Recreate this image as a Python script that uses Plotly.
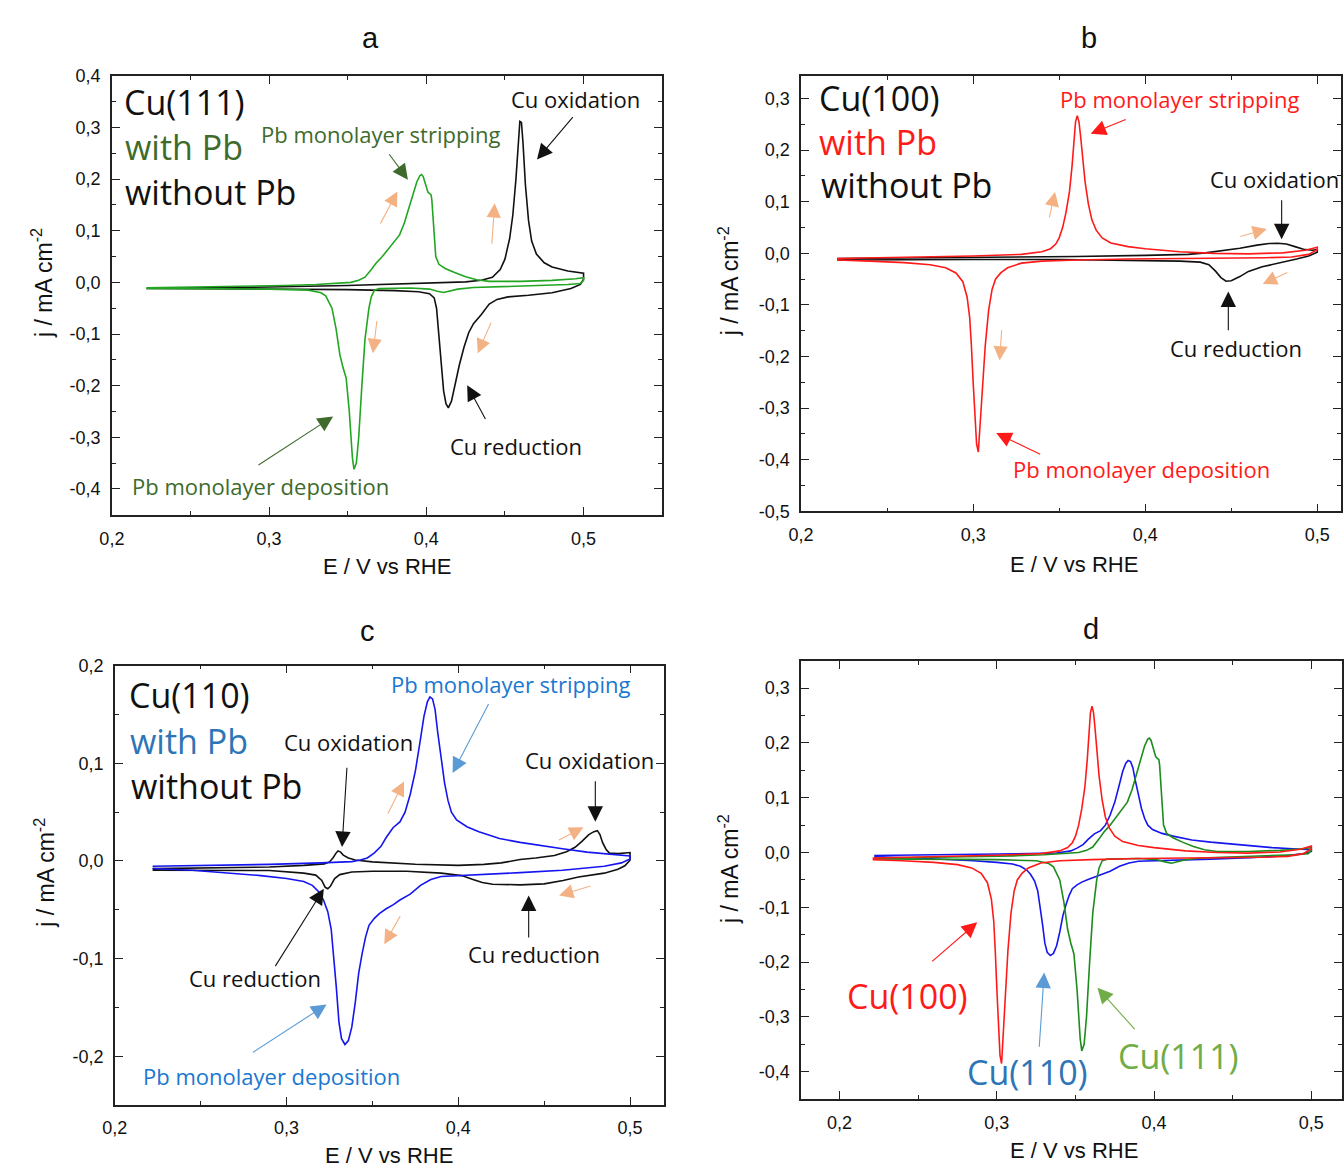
import plotly.graph_objects as go

# ------------------------------------------------------------------ data
# Cu(111) with Pb  (anodic sweep then cathodic sweep)
cu111_pb_E = [0.222, 0.25, 0.28, 0.31, 0.33, 0.345, 0.352, 0.357, 0.361, 0.365, 0.368, 0.372, 0.376,
              0.380, 0.383, 0.386, 0.389, 0.392, 0.394, 0.396, 0.397, 0.398, 0.400, 0.401, 0.402, 0.403,
              0.4035, 0.405, 0.406, 0.408, 0.412, 0.418, 0.425, 0.432, 0.44, 0.46, 0.48, 0.495, 0.5,
              0.5, 0.498, 0.49, 0.47, 0.45, 0.43, 0.42, 0.415, 0.411, 0.407, 0.402, 0.39, 0.375, 0.370,
              0.367, 0.365, 0.3635, 0.361, 0.359, 0.357, 0.3555, 0.354, 0.353, 0.351, 0.349, 0.347,
              0.345, 0.3426, 0.340, 0.336, 0.333, 0.325, 0.30, 0.26, 0.222]
cu111_pb_j = [-0.0105, -0.0095, -0.008, -0.006, -0.004, -0.002, 0.0, 0.004, 0.010, 0.025, 0.037, 0.050, 0.065,
              0.080, 0.092, 0.115, 0.145, 0.175, 0.195, 0.207, 0.209, 0.205, 0.185, 0.175, 0.172, 0.170,
              0.160, 0.080, 0.050, 0.035, 0.027, 0.019, 0.011, 0.005, 0.002, 0.002, 0.004, 0.007, 0.009,
              0.004, -0.002, -0.004, -0.006, -0.008, -0.010, -0.013, -0.017, -0.0195, -0.017, -0.013, -0.011, -0.011, -0.012,
              -0.015, -0.028, -0.05, -0.11, -0.20, -0.30, -0.35, -0.362, -0.34, -0.25, -0.185, -0.165,
              -0.14, -0.09, -0.05, -0.026, -0.020, -0.015, -0.013, -0.012, -0.0115]

# Cu(111) without Pb
cu111_E = [0.222, 0.26, 0.30, 0.35, 0.40, 0.425, 0.435, 0.442, 0.447, 0.450, 0.453, 0.455, 0.457, 0.4585,
           0.4595, 0.4605, 0.4615, 0.463, 0.465, 0.467, 0.470, 0.475, 0.48, 0.49, 0.498, 0.5,
           0.5, 0.498, 0.492, 0.48, 0.465, 0.452, 0.445, 0.44, 0.435, 0.43, 0.427, 0.424, 0.421, 0.418,
           0.416, 0.414, 0.4125, 0.411, 0.4095, 0.408, 0.4065, 0.405, 0.402, 0.395, 0.38, 0.35, 0.30,
           0.26, 0.222]
cu111_j = [-0.012, -0.011, -0.009, -0.006, -0.002, 0.001, 0.004, 0.010, 0.025, 0.045, 0.085, 0.13, 0.20, 0.27,
           0.312, 0.31, 0.27, 0.19, 0.12, 0.080, 0.055, 0.038, 0.030, 0.022, 0.019, 0.018,
           0.006, -0.004, -0.012, -0.020, -0.025, -0.028, -0.033, -0.042, -0.062, -0.080, -0.097, -0.125, -0.16, -0.20,
           -0.23, -0.243, -0.235, -0.21, -0.16, -0.10, -0.05, -0.03, -0.022, -0.018, -0.016, -0.014, -0.013,
           -0.012, -0.0115]

# Cu(100) with Pb
cu100_pb_E = [0.221, 0.26, 0.30, 0.328, 0.34, 0.345, 0.348, 0.350, 0.352, 0.354, 0.356, 0.3575, 0.3585,
              0.3595, 0.3605, 0.3615, 0.3625, 0.3635, 0.365, 0.367, 0.369, 0.3715, 0.375, 0.38, 0.39, 0.40,
              0.42, 0.44, 0.46, 0.48, 0.493, 0.5,
              0.5, 0.495, 0.485, 0.47, 0.43, 0.39, 0.36, 0.34, 0.328, 0.320, 0.316, 0.313, 0.311, 0.309,
              0.307, 0.3055, 0.304, 0.303, 0.302, 0.301, 0.300, 0.299, 0.298, 0.2965, 0.294, 0.290,
              0.284, 0.275, 0.26, 0.24, 0.221]
cu100_pb_j = [-0.010, -0.008, -0.005, -0.002, 0.003, 0.009, 0.018, 0.030, 0.050, 0.080, 0.120, 0.170, 0.215,
              0.255, 0.267, 0.255, 0.225, 0.185, 0.140, 0.095, 0.065, 0.045, 0.030, 0.020, 0.013, 0.009,
              0.003, 0.000, -0.001, 0.001, 0.006, 0.012,
              0.007, -0.002, -0.007, -0.0085, -0.0095, -0.011, -0.013, -0.015, -0.019, -0.028, -0.038, -0.050, -0.07, -0.11,
              -0.18, -0.26, -0.34, -0.385, -0.37, -0.32, -0.25, -0.18, -0.125, -0.085, -0.055, -0.038,
              -0.028, -0.022, -0.018, -0.015, -0.013]

# Cu(100) without Pb
cu100_E = [0.221, 0.30, 0.36, 0.40, 0.425, 0.435, 0.445, 0.455, 0.465, 0.472, 0.477, 0.482, 0.487, 0.492,
           0.497, 0.5,
           0.5, 0.495, 0.488, 0.478, 0.468, 0.46, 0.455, 0.45, 0.447, 0.444, 0.441, 0.437, 0.432, 0.42,
           0.40, 0.35, 0.30, 0.221]
cu100_j = [-0.010, -0.008, -0.006, -0.004, -0.002, 0.001, 0.005, 0.010, 0.016, 0.019, 0.0195, 0.018, 0.013, 0.008,
           0.006, 0.007,
           0.002, -0.005, -0.011, -0.018, -0.026, -0.035, -0.045, -0.053, -0.054, -0.047, -0.035, -0.022, -0.017, -0.015,
           -0.014, -0.012, -0.012, -0.013]

# Cu(110) with Pb
cu110_pb_E = [0.222, 0.26, 0.29, 0.32, 0.338, 0.343, 0.347, 0.351, 0.355, 0.358, 0.362, 0.366, 0.369, 0.372,
              0.375, 0.378, 0.380, 0.382, 0.3835, 0.385, 0.3865, 0.388, 0.390, 0.392, 0.394, 0.396, 0.399,
              0.405, 0.412, 0.424, 0.436, 0.45, 0.4607, 0.475, 0.4852, 0.5,
              0.5, 0.495, 0.485, 0.4607, 0.436, 0.41, 0.399, 0.39, 0.384, 0.378, 0.372, 0.366, 0.362, 0.358,
              0.354, 0.351, 0.348, 0.346, 0.344, 0.342, 0.340, 0.338, 0.336, 0.334, 0.332, 0.3305, 0.329,
              0.3275, 0.326, 0.324, 0.3215, 0.319, 0.315, 0.31, 0.30, 0.285, 0.265, 0.245, 0.222]
cu110_pb_j = [-0.0055, -0.0045, -0.0035, -0.002, -0.0007, 0.001, 0.003, 0.008, 0.015, 0.024, 0.034, 0.040, 0.050, 0.068,
              0.092, 0.125, 0.148, 0.163, 0.168, 0.166, 0.155, 0.132, 0.105, 0.080, 0.062, 0.050, 0.042,
              0.035, 0.030, 0.023, 0.019, 0.015, 0.0125, 0.009, 0.0075, 0.005,
              0.002, -0.002, -0.0055, -0.0095, -0.012, -0.014, -0.0148, -0.016, -0.019, -0.025, -0.034, -0.040, -0.045, -0.049,
              -0.054, -0.059, -0.066, -0.078, -0.095, -0.115, -0.145, -0.170, -0.184, -0.188, -0.182, -0.165, -0.13,
              -0.095, -0.07, -0.052, -0.040, -0.032, -0.025, -0.021, -0.018, -0.015, -0.012, -0.0095, -0.0078]

# Cu(110) without Pb
cu110_E = [0.222, 0.26, 0.29, 0.31, 0.322, 0.325, 0.327, 0.329, 0.330, 0.3315, 0.333, 0.336, 0.34, 0.35,
           0.375, 0.40, 0.415, 0.425, 0.436, 0.445, 0.456, 0.463, 0.468, 0.472, 0.476, 0.479, 0.481,
           0.4825, 0.484, 0.486, 0.488, 0.493, 0.5,
           0.5, 0.497, 0.493, 0.485, 0.47, 0.461, 0.45, 0.436, 0.42, 0.414, 0.409, 0.402, 0.39, 0.37,
           0.35, 0.338, 0.331, 0.328, 0.3255, 0.324, 0.3225, 0.3205, 0.317, 0.31, 0.29, 0.222]
cu110_j = [-0.0079, -0.0072, -0.0062, -0.0045, -0.003, -0.001, 0.003, 0.0085, 0.0103, 0.009, 0.006, 0.003, 0.001, -0.001,
           -0.0034, -0.0045, -0.0035, -0.002, 0.0014, 0.003, 0.0055, 0.0095, 0.014, 0.020, 0.027, 0.030, 0.031,
           0.027, 0.019, 0.012, 0.008, 0.0075, 0.0086,
           0.0007, -0.005, -0.0085, -0.0125, -0.0165, -0.020, -0.0235, -0.0245, -0.0238, -0.022, -0.0192, -0.015, -0.0125, -0.0105,
           -0.0105, -0.0113, -0.014, -0.018, -0.026, -0.0285, -0.027, -0.020, -0.0145, -0.0125, -0.0098, -0.0096]

# tick labels
x_ticks = [0.2, 0.3, 0.4, 0.5]
x_ticklabels = ["0,2", "0,3", "0,4", "0,5"]
ya_ticks = [-0.4, -0.3, -0.2, -0.1, 0.0, 0.1, 0.2, 0.3, 0.4]
ya_ticklabels = ["-0,4", "-0,3", "-0,2", "-0,1", "0,0", "0,1", "0,2", "0,3", "0,4"]
yb_ticks = [-0.5, -0.4, -0.3, -0.2, -0.1, 0.0, 0.1, 0.2, 0.3]
yb_ticklabels = ["-0,5", "-0,4", "-0,3", "-0,2", "-0,1", "0,0", "0,1", "0,2", "0,3"]
yc_ticks = [-0.2, -0.1, 0.0, 0.1, 0.2]
yc_ticklabels = ["-0,2", "-0,1", "0,0", "0,1", "0,2"]
yd_ticks = [-0.4, -0.3, -0.2, -0.1, 0.0, 0.1, 0.2, 0.3]
yd_ticklabels = ["-0,4", "-0,3", "-0,2", "-0,1", "0,0", "0,1", "0,2", "0,3"]
x_minor = [0.15, 0.25, 0.35, 0.45, 0.55]
y_minor = [-0.45, -0.35, -0.25, -0.15, -0.05, 0.05, 0.15, 0.25, 0.35]

panel_letters = ["a", "b", "c", "d"]

# ------------------------------------------------------------------ styles
GREEN_A = "#22a622"
GREEN_D = "#1d8c1d"
RED = "#ff1a1a"
BLUE = "#1515f0"
BLACK = "#111111"
DKGREEN_TXT = "#3e6b2c"
BLUE_TXT = "#2e75b6"
BLUE_TXT2 = "#1a78d0"
LT_BLUE = "#5b9bd5"
LT_GREEN = "#70ad47"
PEACH = "#f4b183"
TXT_FONT = "Open Sans"
AX_FONT = "Liberation Sans, Arial"
BIG = 34

W, H = 1344, 1176

fig = go.Figure()


def add_curve(E, j, color, k):
    fig.add_trace(go.Scatter(x=E, y=j, mode="lines", line=dict(color=color, width=1.6),
                             xaxis="x" + ("" if k == 1 else str(k)),
                             yaxis="y" + ("" if k == 1 else str(k)),
                             showlegend=False, hoverinfo="skip"))


add_curve(cu111_E, cu111_j, BLACK, 1)
add_curve(cu111_pb_E, cu111_pb_j, GREEN_A, 1)
add_curve(cu100_E, cu100_j, BLACK, 2)
add_curve(cu100_pb_E, cu100_pb_j, RED, 2)
add_curve(cu110_E, cu110_j, BLACK, 3)
add_curve(cu110_pb_E, cu110_pb_j, BLUE, 3)
add_curve(cu110_pb_E, cu110_pb_j, BLUE, 4)
add_curve(cu111_pb_E, cu111_pb_j, GREEN_D, 4)
add_curve(cu100_pb_E, cu100_pb_j, RED, 4)

# panel pixel boxes: left, top, right, bottom
boxes = {1: (100, 67, 656, 514), 2: (797, 67, 1343, 510), 3: (103, 667, 658, 1114), 4: (797, 662, 1344, 1108)}
xranges = {1: [0.2, 0.5497], 2: [0.2, 0.5138], 3: [0.2, 0.5196], 4: [0.1755, 0.5195]}
yranges = {1: [-0.451, 0.4], 2: [-0.5, 0.344], 3: [-0.25, 0.2], 4: [-0.45, 0.35]}
yt = {1: (ya_ticks, ya_ticklabels), 2: (yb_ticks, yb_ticklabels), 3: (yc_ticks, yc_ticklabels),
      4: (yd_ticks, yd_ticklabels)}

common = dict(showline=True, linecolor="#222", linewidth=1.6, mirror="allticks", ticks="inside",
              ticklen=8, tickwidth=1.4, tickcolor="#222", showgrid=False, zeroline=False,
              tickfont=dict(family=AX_FONT, size=18, color="#111"), ticklabelstandoff=6,
              minor=dict(ticks="inside", ticklen=4, tickwidth=1.2, tickcolor="#222", showgrid=False))

layout = dict(width=W, height=H, margin=dict(l=0, r=0, t=0, b=0), paper_bgcolor="white",
              plot_bgcolor="white", showlegend=False)

for k in range(1, 5):
    l, t, r, b = boxes[k]
    xs = "xaxis" + ("" if k == 1 else str(k))
    ys = "yaxis" + ("" if k == 1 else str(k))
    xa = dict(common)
    xa.update(domain=[l / W, r / W], range=xranges[k], tickmode="array", tickvals=x_ticks,
              ticktext=x_ticklabels, anchor="y" + ("" if k == 1 else str(k)))
    xa["minor"] = dict(common["minor"], tickvals=x_minor)
    ya = dict(common)
    ya.update(domain=[1 - b / H, 1 - t / H], range=yranges[k], tickmode="array", tickvals=yt[k][0],
              ticktext=yt[k][1], anchor="x" + ("" if k == 1 else str(k)))
    ya["minor"] = dict(common["minor"], tickvals=y_minor)
    layout[xs] = xa
    layout[ys] = ya

fig.update_layout(**layout)

ann = []

# panel titles and axis titles (paper pixel positions)
title_pos = [(362, 28), (1088, 28), (358, 632), (1090, 630)]
for letter, (px, py) in zip(panel_letters, title_pos):
    ann.append(dict(text=letter, x=px / W, y=1 - py / H, xref="paper", yref="paper", showarrow=False,
                    font=dict(family=AX_FONT, size=29, color="#111"), xanchor="center", yanchor="middle"))
xtitle_pos = [(378, 566), (1073, 564), (380, 1165), (1073, 1160)]
ytitle_pos = [(30, 278), (724, 276), (32, 878), (724, 874)]
for (px, py) in xtitle_pos:
    ann.append(dict(text="E / V vs RHE", x=px / W, y=1 - py / H, xref="paper", yref="paper",
                    showarrow=False, font=dict(family=AX_FONT, size=22, color="#111"),
                    xanchor="center", yanchor="middle"))
for (px, py) in ytitle_pos:
    ann.append(dict(text="j / mA cm<sup>-2</sup>", x=px / W, y=1 - py / H, xref="paper", yref="paper",
                    showarrow=False, textangle=-90, font=dict(family=AX_FONT, size=23, color="#111"),
                    xanchor="center", yanchor="middle"))


def txt(k, s, x, y, color, size=22):
    sx = "" if k == 1 else str(k)
    ann.append(dict(text=s, x=x, y=y, xref="x" + sx, yref="y" + sx, showarrow=False,
                    xanchor="left", yanchor="middle", font=dict(family=TXT_FONT, size=size, color=color)))


def arr(k, x0, y0, x1, y1, color, width=1.1, size=2.8):
    sx = "" if k == 1 else str(k)
    ann.append(dict(text="", x=x1, y=y1, ax=x0, ay=y0, xref="x" + sx, yref="y" + sx,
                    axref="x" + sx, ayref="y" + sx, showarrow=True, arrowhead=2, arrowsize=size,
                    arrowwidth=width, arrowcolor=color, standoff=0, startstandoff=0))


def dir_arr(k, x0, y0, x1, y1):
    arr(k, x0, y0, x1, y1, PEACH, width=1.1, size=2.6)


# panel a
txt(1, "Cu(111)", 0.2062, 0.350, BLACK, BIG)
txt(1, "with Pb", 0.2070, 0.263, DKGREEN_TXT, BIG)
txt(1, "without Pb", 0.2070, 0.175, BLACK, BIG)
txt(1, "Pb monolayer stripping", 0.2934, 0.287, DKGREEN_TXT)
txt(1, "Cu oxidation", 0.4529, 0.355, BLACK)
txt(1, "Cu reduction", 0.4139, -0.317, BLACK)
txt(1, "Pb monolayer deposition", 0.2116, -0.394, DKGREEN_TXT)
arr(1, 0.494, 0.323, 0.4704, 0.238, BLACK)
arr(1, 0.3757, 0.2511, 0.3883, 0.199, DKGREEN_TXT)
arr(1, 0.4381, -0.2675, 0.426, -0.199, BLACK)
arr(1, 0.2923, -0.3555, 0.3407, -0.2596, DKGREEN_TXT)
dir_arr(1, 0.3703, 0.1109, 0.3816, 0.176)
dir_arr(1, 0.4416, 0.0718, 0.4435, 0.1533)
dir_arr(1, 0.3687, -0.0718, 0.366, -0.137)
dir_arr(1, 0.4416, -0.075, 0.4327, -0.137)

# panel b
txt(2, "Cu(100)", 0.2095, 0.302, BLACK, BIG)
txt(2, "with Pb", 0.2095, 0.215, RED, BIG)
txt(2, "without Pb", 0.2105, 0.133, BLACK, BIG)
txt(2, "Pb monolayer stripping", 0.3495, 0.299, RED)
txt(2, "Cu oxidation", 0.4364, 0.145, BLACK)
txt(2, "Cu reduction", 0.4130, -0.184, BLACK)
txt(2, "Pb monolayer deposition", 0.3222, -0.417, RED)
arr(2, 0.3895, 0.2608, 0.3683, 0.232, RED)
arr(2, 0.4793, 0.1059, 0.4793, 0.0275, BLACK)
arr(2, 0.4483, -0.152, 0.4483, -0.0739, BLACK)
arr(2, 0.3398, -0.391, 0.3134, -0.348, RED)
dir_arr(2, 0.3441, 0.0667, 0.3476, 0.119)
dir_arr(2, 0.3166, -0.1458, 0.3154, -0.2078)
dir_arr(2, 0.4544, 0.032, 0.4707, 0.047)
dir_arr(2, 0.4834, -0.036, 0.4683, -0.0595)

# panel c
txt(3, "Cu(110)", 0.2070, 0.170, BLACK, BIG)
txt(3, "with Pb", 0.2075, 0.123, BLUE_TXT, BIG)
txt(3, "without Pb", 0.2080, 0.077, BLACK, BIG)
txt(3, "Cu oxidation", 0.2975, 0.122, BLACK)
txt(3, "Pb monolayer stripping", 0.3596, 0.181, BLUE_TXT2)
txt(3, "Cu oxidation", 0.4378, 0.1035, BLACK)
txt(3, "Cu reduction", 0.4043, -0.0948, BLACK)
txt(3, "Cu reduction", 0.2419, -0.120, BLACK)
txt(3, "Pb monolayer deposition", 0.2153, -0.2207, BLUE_TXT2)
arr(3, 0.3352, 0.0969, 0.3323, 0.0144, BLACK)
arr(3, 0.4181, 0.1622, 0.3967, 0.09, LT_BLUE)
arr(3, 0.4798, 0.0832, 0.4798, 0.0402, BLACK)
arr(3, 0.441, -0.080, 0.441, -0.0354, BLACK)
arr(3, 0.2929, -0.1093, 0.3217, -0.0285, BLACK)
arr(3, 0.2796, -0.197, 0.3233, -0.147, LT_BLUE)
dir_arr(3, 0.3586, 0.0471, 0.3684, 0.0814)
dir_arr(3, 0.3667, -0.055, 0.3569, -0.0852)
dir_arr(3, 0.4577, 0.0206, 0.4729, 0.0344)
dir_arr(3, 0.4778, -0.0251, 0.4587, -0.0354)

# panel d
txt(4, "Cu(100)", 0.2037, -0.261, RED, BIG)
txt(4, "Cu(110)", 0.2797, -0.400, BLUE_TXT, BIG)
txt(4, "Cu(111)", 0.3757, -0.371, LT_GREEN, BIG)
arr(4, 0.2579, -0.2009, 0.2875, -0.1274, RED)
arr(4, 0.3269, -0.357, 0.3301, -0.219, LT_BLUE)
arr(4, 0.3885, -0.325, 0.364, -0.2468, LT_GREEN)

fig.update_layout(annotations=ann)
fig.write_html("out.html", config={"displayModeBar": False},
               post_script="document.body.style.margin='0';document.body.style.padding='0';")
